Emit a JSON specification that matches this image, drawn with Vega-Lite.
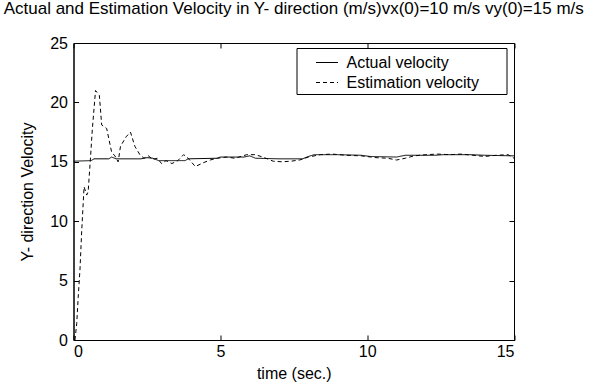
{
  "$schema": "https://vega.github.io/schema/vega-lite/v6.json",
  "width": 440.5,
  "height": 297,
  "autosize": {"type": "none"},
  "padding": {"left": 73.5, "top": 43, "right": 75, "bottom": 47},
  "background": "white",
  "title": {
    "text": "Actual and Estimation Velocity in Y- direction (m/s)vx(0)=10 m/s vy(0)=15 m/s",
    "font": "Liberation Sans", "fontSize": 17, "fontWeight": "normal",
    "color": "black", "anchor": "middle", "offset": 17
  },
  "config": {
    "view": {"stroke": "black", "strokeWidth": 1},
    "axis": {
      "domainColor": "black", "tickColor": "black", "labelColor": "black", "titleColor": "black",
      "labelFont": "Liberation Sans", "titleFont": "Liberation Sans",
      "labelFontSize": 16, "titleFontSize": 16, "titleFontWeight": "normal",
      "grid": false, "tickSize": -5
    }
  },
  "datasets": {
    "vel": [
      {"t": 0, "v": 15.05, "series": "Actual velocity"},
      {"t": 0.6, "v": 15.1, "series": "Actual velocity"},
      {"t": 0.7, "v": 15.25, "series": "Actual velocity"},
      {"t": 1.2, "v": 15.25, "series": "Actual velocity"},
      {"t": 1.3, "v": 15.4, "series": "Actual velocity"},
      {"t": 1.45, "v": 15.25, "series": "Actual velocity"},
      {"t": 2.3, "v": 15.25, "series": "Actual velocity"},
      {"t": 2.5, "v": 15.35, "series": "Actual velocity"},
      {"t": 2.7, "v": 15.3, "series": "Actual velocity"},
      {"t": 2.9, "v": 15.1, "series": "Actual velocity"},
      {"t": 3.8, "v": 15.1, "series": "Actual velocity"},
      {"t": 3.9, "v": 15.25, "series": "Actual velocity"},
      {"t": 4.9, "v": 15.3, "series": "Actual velocity"},
      {"t": 5.0, "v": 15.4, "series": "Actual velocity"},
      {"t": 5.8, "v": 15.4, "series": "Actual velocity"},
      {"t": 6.0, "v": 15.5, "series": "Actual velocity"},
      {"t": 6.2, "v": 15.3, "series": "Actual velocity"},
      {"t": 7.0, "v": 15.25, "series": "Actual velocity"},
      {"t": 7.8, "v": 15.25, "series": "Actual velocity"},
      {"t": 8.0, "v": 15.45, "series": "Actual velocity"},
      {"t": 8.2, "v": 15.6, "series": "Actual velocity"},
      {"t": 9.0, "v": 15.6, "series": "Actual velocity"},
      {"t": 9.8, "v": 15.55, "series": "Actual velocity"},
      {"t": 10.1, "v": 15.45, "series": "Actual velocity"},
      {"t": 11.0, "v": 15.4, "series": "Actual velocity"},
      {"t": 11.3, "v": 15.55, "series": "Actual velocity"},
      {"t": 12.3, "v": 15.55, "series": "Actual velocity"},
      {"t": 12.6, "v": 15.6, "series": "Actual velocity"},
      {"t": 13.5, "v": 15.6, "series": "Actual velocity"},
      {"t": 14.0, "v": 15.55, "series": "Actual velocity"},
      {"t": 15.0, "v": 15.5, "series": "Actual velocity"},
      {"t": 0.05, "v": 0, "series": "Estimation velocity"},
      {"t": 0.11, "v": 1.4, "series": "Estimation velocity"},
      {"t": 0.16, "v": 3.6, "series": "Estimation velocity"},
      {"t": 0.22, "v": 5.9, "series": "Estimation velocity"},
      {"t": 0.28, "v": 9.2, "series": "Estimation velocity"},
      {"t": 0.36, "v": 12.9, "series": "Estimation velocity"},
      {"t": 0.45, "v": 12.2, "series": "Estimation velocity"},
      {"t": 0.5, "v": 12.5, "series": "Estimation velocity"},
      {"t": 0.58, "v": 15.4, "series": "Estimation velocity"},
      {"t": 0.64, "v": 17.7, "series": "Estimation velocity"},
      {"t": 0.75, "v": 21.0, "series": "Estimation velocity"},
      {"t": 0.88, "v": 20.6, "series": "Estimation velocity"},
      {"t": 0.96, "v": 18.1, "series": "Estimation velocity"},
      {"t": 1.13, "v": 17.8, "series": "Estimation velocity"},
      {"t": 1.3, "v": 15.8, "series": "Estimation velocity"},
      {"t": 1.41, "v": 15.5, "series": "Estimation velocity"},
      {"t": 1.52, "v": 15.0, "series": "Estimation velocity"},
      {"t": 1.6, "v": 16.3, "series": "Estimation velocity"},
      {"t": 1.79, "v": 17.1, "series": "Estimation velocity"},
      {"t": 1.94, "v": 17.5, "series": "Estimation velocity"},
      {"t": 2.09, "v": 16.3, "series": "Estimation velocity"},
      {"t": 2.26, "v": 15.6, "series": "Estimation velocity"},
      {"t": 2.4, "v": 15.3, "series": "Estimation velocity"},
      {"t": 2.55, "v": 15.5, "series": "Estimation velocity"},
      {"t": 2.7, "v": 15.2, "series": "Estimation velocity"},
      {"t": 2.85, "v": 15.3, "series": "Estimation velocity"},
      {"t": 3.0, "v": 14.85, "series": "Estimation velocity"},
      {"t": 3.15, "v": 15.1, "series": "Estimation velocity"},
      {"t": 3.35, "v": 14.85, "series": "Estimation velocity"},
      {"t": 3.55, "v": 15.1, "series": "Estimation velocity"},
      {"t": 3.75, "v": 15.6, "series": "Estimation velocity"},
      {"t": 3.9, "v": 15.3, "series": "Estimation velocity"},
      {"t": 4.15, "v": 14.6, "series": "Estimation velocity"},
      {"t": 4.4, "v": 14.9, "series": "Estimation velocity"},
      {"t": 4.65, "v": 15.15, "series": "Estimation velocity"},
      {"t": 4.9, "v": 15.3, "series": "Estimation velocity"},
      {"t": 5.2, "v": 15.4, "series": "Estimation velocity"},
      {"t": 5.5, "v": 15.3, "series": "Estimation velocity"},
      {"t": 5.9, "v": 15.6, "series": "Estimation velocity"},
      {"t": 6.2, "v": 15.6, "series": "Estimation velocity"},
      {"t": 6.5, "v": 15.35, "series": "Estimation velocity"},
      {"t": 6.8, "v": 15.05, "series": "Estimation velocity"},
      {"t": 7.1, "v": 15.0, "series": "Estimation velocity"},
      {"t": 7.4, "v": 15.05, "series": "Estimation velocity"},
      {"t": 7.7, "v": 15.15, "series": "Estimation velocity"},
      {"t": 8.0, "v": 15.4, "series": "Estimation velocity"},
      {"t": 8.4, "v": 15.6, "series": "Estimation velocity"},
      {"t": 8.8, "v": 15.65, "series": "Estimation velocity"},
      {"t": 9.3, "v": 15.55, "series": "Estimation velocity"},
      {"t": 9.8, "v": 15.5, "series": "Estimation velocity"},
      {"t": 10.3, "v": 15.35, "series": "Estimation velocity"},
      {"t": 10.7, "v": 15.3, "series": "Estimation velocity"},
      {"t": 11.0, "v": 15.15, "series": "Estimation velocity"},
      {"t": 11.3, "v": 15.3, "series": "Estimation velocity"},
      {"t": 11.6, "v": 15.5, "series": "Estimation velocity"},
      {"t": 12.0, "v": 15.6, "series": "Estimation velocity"},
      {"t": 12.4, "v": 15.65, "series": "Estimation velocity"},
      {"t": 12.8, "v": 15.6, "series": "Estimation velocity"},
      {"t": 13.2, "v": 15.65, "series": "Estimation velocity"},
      {"t": 13.6, "v": 15.55, "series": "Estimation velocity"},
      {"t": 14.0, "v": 15.45, "series": "Estimation velocity"},
      {"t": 14.4, "v": 15.55, "series": "Estimation velocity"},
      {"t": 14.8, "v": 15.6, "series": "Estimation velocity"},
      {"t": 15.0, "v": 15.3, "series": "Estimation velocity"}
    ]
  },
  "data": {"name": "vel"},
  "layer": [
    {
      "mark": {"type": "line", "color": "black", "strokeWidth": 1, "clip": true},
      "encoding": {
        "x": {
          "field": "t", "type": "quantitative",
          "scale": {"domain": [0, 15], "nice": false, "zero": false},
          "axis": {"orient": "bottom", "values": [0, 5, 10, 15], "title": "time (sec.)", "labelPadding": 8, "titlePadding": 6, "domain": true}
        },
        "y": {
          "field": "v", "type": "quantitative",
          "scale": {"domain": [0, 25], "nice": false, "zero": false},
          "axis": {"orient": "left", "values": [0, 5, 10, 15, 20, 25], "title": "Y- direction Velocity", "labelPadding": 11, "titlePadding": 14, "domain": true}
        },
        "strokeDash": {
          "field": "series", "type": "nominal",
          "scale": {"domain": ["Actual velocity", "Estimation velocity"], "range": [[1, 0], [4, 3]]},
          "legend": {
            "title": null, "orient": "none", "legendX": 223, "legendY": 5,
            "strokeColor": "black", "fillColor": "white", "padding": 3,
            "symbolType": "stroke", "symbolSize": 484, "symbolStrokeColor": "black",
            "symbolStrokeWidth": 1, "symbolOffset": 16, "labelOffset": 8,
            "labelFont": "Liberation Sans", "labelFontSize": 16, "labelColor": "black",
            "rowPadding": 0, "labelLimit": 300,
            "labelExpr": "datum.label + '\u2800\u2800'"
          }
        }
      }
    },
    {
      "mark": {"type": "point", "opacity": 0},
      "encoding": {
        "x": {"field": "t", "type": "quantitative", "axis": {"orient": "top", "values": [0, 5, 10, 15], "labels": false, "title": null, "domain": false}},
        "y": {"field": "v", "type": "quantitative", "axis": {"orient": "right", "values": [0, 5, 10, 15, 20, 25], "labels": false, "title": null, "domain": false}}
      }
    }
  ],
  "resolve": {"axis": {"x": "independent", "y": "independent"}}
}
